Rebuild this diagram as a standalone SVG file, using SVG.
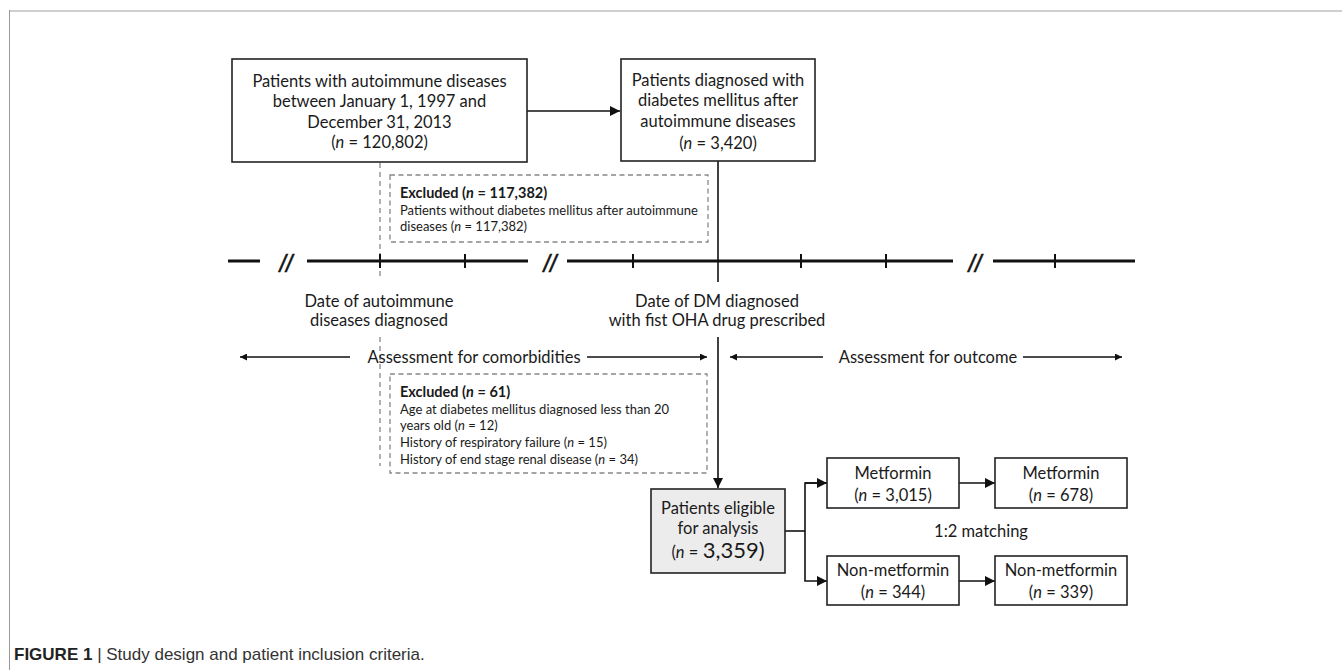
<svg xmlns="http://www.w3.org/2000/svg" width="1342" height="670" viewBox="0 0 1342 670">
<defs>
<marker id="ah" viewBox="0 0 10 10" refX="10" refY="5" markerWidth="11" markerHeight="10" markerUnits="userSpaceOnUse" orient="auto"><path d="M0,0 L10,5 L0,10 z" fill="#111"/></marker>
<marker id="ahs" viewBox="0 0 10 10" refX="10" refY="5" markerWidth="8" markerHeight="7" markerUnits="userSpaceOnUse" orient="auto"><path d="M0,0 L10,5 L0,10 z" fill="#111"/></marker>
<style>
.t{font-family:Lato,"Liberation Sans",sans-serif;fill:#1a1a1a;}
.c{text-anchor:middle;}
.b16{font-size:16.5px;}
.s{font-size:13px;}
.h{font-size:14.5px;font-weight:bold;}
.box{fill:#fff;stroke:#222;stroke-width:1.6;}
.dbox{fill:none;stroke:#888;stroke-width:1.3;stroke-dasharray:5 3.5;}
.dv{stroke:#888;stroke-width:1.3;stroke-dasharray:5 4;fill:none;}
.ln{stroke:#111;stroke-width:1.6;fill:none;}
.tl{stroke:#111;stroke-width:3;fill:none;}
.tk{stroke:#111;stroke-width:2;fill:none;}
.sl{font-family:"Liberation Sans",sans-serif;font-style:italic;font-size:23px;fill:#111;text-anchor:middle;stroke:#111;stroke-width:0.6;}
.cap{font-family:"Liberation Sans",Arial,sans-serif;font-size:17px;fill:#333;}
</style>
</defs>
<rect width="1342" height="670" fill="#fff"/>
<g id="frame">
<line x1="9" y1="11" x2="1342" y2="11" stroke="#cfcfcf" stroke-width="2"/>
<line x1="9.5" y1="10" x2="9.5" y2="670" stroke="#999" stroke-width="1"/>
</g>
<g id="connectors">
<line class="ln" x1="527" y1="111" x2="620" y2="111" marker-end="url(#ah)"/>
<line class="dv" x1="380" y1="163" x2="380" y2="278"/>
<line class="dv" x1="380" y1="337" x2="380" y2="466"/>
<line class="ln" x1="718" y1="161" x2="718" y2="282"/>
<line class="ln" x1="718" y1="337" x2="718" y2="488" marker-end="url(#ah)"/>
<polyline class="ln" points="785,531 805,531"/>
<polyline class="ln" points="827,483 805,483 805,581 827,581" marker-end="url(#ah)"/>
<line class="ln" x1="805" y1="483" x2="827" y2="483" marker-end="url(#ah)"/>
<line class="ln" x1="959" y1="483" x2="995" y2="483" marker-end="url(#ah)"/>
<line class="ln" x1="959" y1="581" x2="995" y2="581" marker-end="url(#ah)"/>
<line class="ln" x1="350" y1="357" x2="240" y2="357" marker-end="url(#ahs)"/>
<line class="ln" x1="587" y1="357" x2="707" y2="357" marker-end="url(#ahs)"/>
<line class="ln" x1="823" y1="357" x2="730" y2="357" marker-end="url(#ahs)"/>
<line class="ln" x1="1023" y1="357" x2="1122" y2="357" marker-end="url(#ahs)"/>
</g>
<g id="timeline">
<line class="tl" x1="228" y1="261" x2="260" y2="261"/>
<line class="tl" x1="307" y1="261" x2="528" y2="261"/>
<line class="tl" x1="567" y1="261" x2="953" y2="261"/>
<line class="tl" x1="993" y1="261" x2="1135" y2="261"/>
<text class="sl" x="286" y="272">//</text>
<text class="sl" x="550" y="272">//</text>
<text class="sl" x="975" y="272">//</text>
<line class="tk" x1="380" y1="254" x2="380" y2="268"/>
<line class="tk" x1="465" y1="254" x2="465" y2="268"/>
<line class="tk" x1="633" y1="254" x2="633" y2="268"/>
<line class="tk" x1="801" y1="254" x2="801" y2="268"/>
<line class="tk" x1="886" y1="254" x2="886" y2="268"/>
<line class="tk" x1="1055" y1="254" x2="1055" y2="268"/>
<text class="t c b16" x="379" y="307">Date of autoimmune</text>
<text class="t c b16" x="379" y="326">diseases diagnosed</text>
<text class="t c b16" x="717" y="307">Date of DM diagnosed</text>
<text class="t c b16" x="717" y="326">with fist OHA drug prescribed</text>
<text class="t c b16" x="474" y="363">Assessment for comorbidities</text>
<text class="t c b16" x="928" y="363">Assessment for outcome</text>
</g>
<g id="n1">
<rect class="box" x="232" y="59" width="295" height="103"/>
<text class="t c b16" x="379.5" y="87">Patients with autoimmune diseases</text>
<text class="t c b16" x="379.5" y="107">between January 1, 1997 and</text>
<text class="t c b16" x="379.5" y="128">December 31, 2013</text>
<text class="t c b16" x="379.5" y="148">(<tspan font-style="italic">n</tspan> = 120,802)</text>
</g>
<g id="n2">
<rect class="box" x="621" y="59" width="194" height="102"/>
<text class="t c b16" x="718" y="86">Patients diagnosed with</text>
<text class="t c b16" x="718" y="106">diabetes mellitus after</text>
<text class="t c b16" x="718" y="127">autoimmune diseases</text>
<text class="t c b16" x="718" y="149">(<tspan font-style="italic">n</tspan> = 3,420)</text>
</g>
<g id="ex1">
<rect class="dbox" x="390" y="175" width="318" height="67"/>
<text class="t h" x="400" y="198">Excluded (<tspan font-style="italic">n</tspan> = 117,382)</text>
<text class="t s" x="400" y="215">Patients without diabetes mellitus after autoimmune</text>
<text class="t s" x="400" y="231">diseases (<tspan font-style="italic">n</tspan> = 117,382)</text>
</g>
<g id="ex2">
<rect class="dbox" x="390" y="374" width="317" height="99"/>
<text class="t h" x="400" y="397">Excluded (<tspan font-style="italic">n</tspan> = 61)</text>
<text class="t s" x="400" y="414">Age at diabetes mellitus diagnosed less than 20</text>
<text class="t s" x="400" y="430">years old (<tspan font-style="italic">n</tspan> = 12)</text>
<text class="t s" x="400" y="447">History of respiratory failure (<tspan font-style="italic">n</tspan> = 15)</text>
<text class="t s" x="400" y="464">History of end stage renal disease (<tspan font-style="italic">n</tspan> = 34)</text>
</g>
<g id="n3">
<rect x="651" y="489" width="134" height="84" fill="#ececec" stroke="#222" stroke-width="1.6"/>
<text class="t c b16" x="718" y="514">Patients eligible</text>
<text class="t c b16" x="718" y="534">for analysis</text>
<text class="t c b16" x="718" y="558">(<tspan font-style="italic">n</tspan> = <tspan font-size="22">3,359)</tspan></text>
</g>
<g id="n4">
<rect class="box" x="827" y="458" width="132" height="50"/>
<text class="t c b16" x="893" y="479">Metformin</text>
<text class="t c b16" x="893" y="501">(<tspan font-style="italic">n</tspan> = 3,015)</text>
</g>
<g id="n5">
<rect class="box" x="995" y="458" width="132" height="50"/>
<text class="t c b16" x="1061" y="479">Metformin</text>
<text class="t c b16" x="1061" y="501">(<tspan font-style="italic">n</tspan> = 678)</text>
</g>
<g id="n6">
<rect class="box" x="827" y="556" width="132" height="49"/>
<text class="t c b16" x="893" y="576">Non-metformin</text>
<text class="t c b16" x="893" y="598">(<tspan font-style="italic">n</tspan> = 344)</text>
</g>
<g id="n7">
<rect class="box" x="995" y="556" width="132" height="49"/>
<text class="t c b16" x="1061" y="576">Non-metformin</text>
<text class="t c b16" x="1061" y="598">(<tspan font-style="italic">n</tspan> = 339)</text>
</g>
<text class="t c b16" x="981" y="537">1:2 matching</text>
<text class="cap" x="14" y="660"><tspan font-weight="bold" fill="#222">FIGURE 1</tspan> | Study design and patient inclusion criteria.</text>
</svg>
